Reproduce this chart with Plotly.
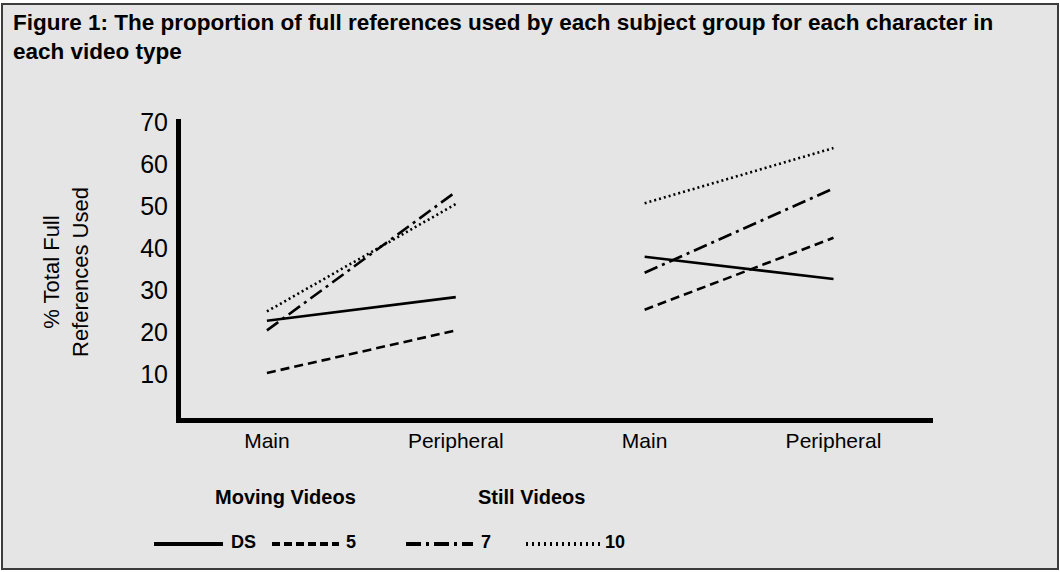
import plotly.graph_objects as go

# ---------------- data ----------------
categories = ["Main", "Peripheral"]
video_types = ["Moving Videos", "Still Videos"]
series_names = ["DS", "5", "7", "10"]

moving_ds = [22.8, 28.4]
moving_5 = [10.4, 20.5]
moving_7 = [20.5, 53.4]
moving_10 = [25.0, 50.5]

still_ds = [38.0, 32.7]
still_5 = [25.4, 42.5]
still_7 = [34.2, 54.2]
still_10 = [50.7, 63.8]

y_ticks = [10, 20, 30, 40, 50, 60, 70]

# ---------------- layout helpers ----------------
W_FIG, H_FIG = 1060, 572
L, R, T, B = 181, 933, 119, 418
PW, PH = R - L, B - T


def px(x):
    return (x - L) / PW


def py(y):
    return (B - y) / PH


BOLD = "Liberation Sans, Arial, Helvetica, sans-serif"
REG = "Liberation Sans, Arial, Helvetica, sans-serif"

styles = {
    "DS": "solid",
    "5": "9px,5px",
    "7": "14px,5px,3px,5px",
    "10": "2px,3px",
}

moving = {"DS": moving_ds, "5": moving_5, "7": moving_7, "10": moving_10}
still = {"DS": still_ds, "5": still_5, "7": still_7, "10": still_10}

fig = go.Figure()
for gi, group in enumerate([moving, still]):
    xs = [gi * len(categories) + i for i in range(len(categories))]
    for name in series_names:
        fig.add_trace(go.Scatter(
            x=xs, y=group[name], mode="lines", name=name,
            line=dict(color="black", width=2.6, dash=styles[name]),
            showlegend=False, hoverinfo="skip",
        ))

tickvals = list(range(len(categories) * len(video_types)))
ticktext = categories * len(video_types)

fig.update_xaxes(
    range=[-0.455, 3.527], tickvals=tickvals, ticktext=ticktext,
    showgrid=False, zeroline=False, showline=True, linecolor="black", linewidth=5,
    ticks="", tickfont=dict(family=REG, size=21, color="black"),
    ticklabelstandoff=0,
)
fig.update_yaxes(
    range=[-0.3, 70.7], tickvals=y_ticks, ticktext=[str(v) for v in y_ticks],
    showgrid=False, zeroline=False, showline=True, linecolor="black", linewidth=5,
    ticks="", tickfont=dict(family=REG, size=25, color="black"),
    ticklabelstandoff=3,
)

annotations = []
# title
annotations.append(dict(
    text="Figure 1: The proportion of full references used by each subject group for each character in<br>each video type",
    xref="paper", yref="paper", x=px(11), y=py(8), xanchor="left", yanchor="top",
    align="left", showarrow=False,
    font=dict(family=BOLD, size=22.5, color="black", weight="bold"),
))
# y-axis title
annotations.append(dict(
    text="% Total Full<br>References Used",
    xref="paper", yref="paper", x=px(66), y=py(272), xanchor="center", yanchor="middle",
    textangle=-90, showarrow=False,
    font=dict(family=REG, size=22, color="black"),
))
# group labels
for label, cx in zip(video_types, [285, 531]):
    annotations.append(dict(
        text=label, xref="paper", yref="paper", x=px(cx), y=py(497),
        xanchor="center", yanchor="middle", showarrow=False,
        font=dict(family=BOLD, size=20, color="black", weight="bold"),
    ))

shapes = []
# background panel with border
shapes.append(dict(
    type="rect", xref="paper", yref="paper", layer="below",
    x0=px(2), x1=px(1058), y0=py(4), y1=py(569),
    fillcolor="#e5e5e5", line=dict(color="#3c3c3c", width=2),
))

# legend (custom)
legend_pos = [(154, 223, 229), (272, 339, 344), (406, 473, 479), (526, 600, 603)]
legend_dash = {
    "DS": "solid",
    "5": "8px,4px",
    "7": "15px,5px,3px,5px",
    "10": "2px,4px",
}
for name, (x0, x1, tx) in zip(series_names, legend_pos):
    shapes.append(dict(
        type="line", xref="paper", yref="paper",
        x0=px(x0), x1=px(x1), y0=py(544), y1=py(544),
        line=dict(color="black", width=4, dash=legend_dash[name]),
    ))
    annotations.append(dict(
        text=name, xref="paper", yref="paper", x=px(tx), y=py(542),
        xanchor="left", yanchor="middle", showarrow=False,
        font=dict(family=BOLD, size=18, color="black", weight="bold"),
    ))

fig.update_layout(
    width=W_FIG, height=H_FIG,
    margin=dict(l=L, r=W_FIG - R, t=T, b=H_FIG - B, pad=0),
    paper_bgcolor="white", plot_bgcolor="rgba(0,0,0,0)",
    showlegend=False, annotations=annotations, shapes=shapes,
)

fig.write_html(
    "out.html",
    config={"displayModeBar": False},
    post_script="document.body.style.margin='0';document.body.style.padding='0';document.body.style.overflow='hidden';",
)
